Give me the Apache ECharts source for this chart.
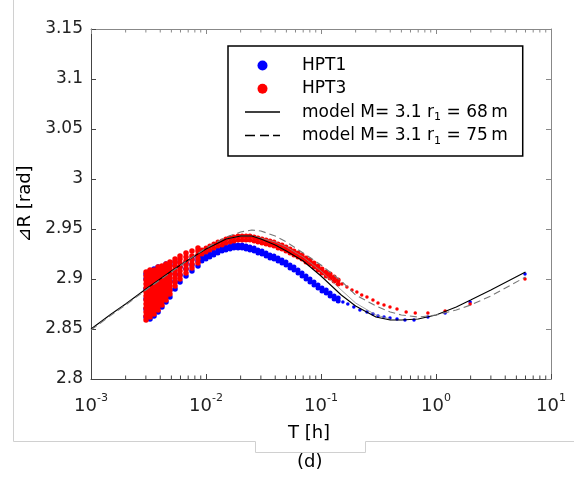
<!DOCTYPE html>
<html><head><meta charset="utf-8">
<script src="https://cdn.jsdelivr.net/npm/echarts@6/dist/echarts.min.js"></script>
<style>html,body{margin:0;padding:0;background:#fff}#c{width:574px;height:479px}</style>
</head><body><div id="c"></div>
<script>
// ---- axis ticks ----
const xMajorTicks = [0.001, 0.01, 0.1, 1, 10];
const xMinorTicks = [0.002,0.003,0.004,0.005,0.006,0.007,0.008,0.009,
  0.02,0.03,0.04,0.05,0.06,0.07,0.08,0.09,
  0.2,0.3,0.4,0.5,0.6,0.7,0.8,0.9,
  2,3,4,5,6,7,8,9];
const yMin = 2.8, yMax = 3.15, yStep = 0.05;

// ---- early-time cluster (columns of T with the values seen in each column) ----
const clusterT = [0.00301,0.00326,0.00353,0.00383,0.00414,0.00449,0.00486,0.00538,0.00594,0.0067,0.00755,0.00852];
const hpt1ClusterCols = [
  [2.862,2.870,2.880,2.890,2.900,2.905],
  [2.860,2.866,2.876,2.888,2.898,2.908],
  [2.863,2.871,2.880,2.892,2.904,2.910],
  [2.867,2.874,2.882,2.895,2.906,2.912],
  [2.872,2.879,2.886,2.900,2.912],
  [2.877,2.884,2.892,2.905,2.915],
  [2.882,2.889,2.898,2.914],
  [2.890,2.897,2.905,2.917],
  [2.897,2.904,2.912],
  [2.903,2.910,2.916],
  [2.908,2.914,2.920],
  [2.913,2.918,2.922]
];
const hpt3ClusterCols = [
  [2.859,2.863,2.867,2.871,2.875,2.879,2.883,2.887,2.891,2.895,2.899,2.903,2.907],
  [2.862,2.866,2.870,2.874,2.878,2.882,2.886,2.890,2.894,2.898,2.902,2.906,2.909],
  [2.865,2.869,2.873,2.877,2.881,2.885,2.889,2.893,2.897,2.901,2.905,2.909],
  [2.869,2.873,2.877,2.881,2.885,2.889,2.893,2.897,2.901,2.905,2.909,2.912],
  [2.874,2.878,2.882,2.886,2.890,2.894,2.898,2.902,2.906,2.910,2.913],
  [2.879,2.883,2.887,2.891,2.895,2.899,2.903,2.907,2.911,2.915],
  [2.885,2.889,2.893,2.897,2.901,2.905,2.909,2.913,2.917],
  [2.893,2.897,2.901,2.905,2.909,2.913,2.917,2.920],
  [2.900,2.904,2.908,2.912,2.916,2.920,2.923],
  [2.906,2.910,2.914,2.918,2.922,2.926],
  [2.911,2.915,2.919,2.923,2.928],
  [2.916,2.920,2.924,2.928,2.931]
];

// ---- dense band (upper / lower edge of each data band) ----
const bandT = [0.00923,0.0100,0.0108,0.0117,0.0127,0.0138,0.0149,0.0162,0.0175,0.0190,0.0206,0.0223,0.0241,0.0262,0.0283,0.0307,0.0333,0.0360,0.0390,0.0423,0.0458,0.0496,0.0538,0.0582,0.0631,0.0684,0.0741,0.0802,0.0869,0.0942,0.102,0.111,0.120,0.130,0.141];
const hpt3BandUpper = [2.929,2.931,2.933,2.935,2.937,2.938,2.940,2.941,2.942,2.943,2.943,2.943,2.943,2.942,2.941,2.940,2.939,2.938,2.937,2.935,2.934,2.932,2.930,2.928,2.926,2.924,2.921,2.919,2.916,2.913,2.910,2.907,2.905,2.902,2.899];
const hpt3BandLower = [2.925,2.927,2.929,2.931,2.933,2.934,2.936,2.937,2.938,2.939,2.939,2.939,2.939,2.938,2.937,2.936,2.935,2.934,2.933,2.931,2.930,2.928,2.926,2.924,2.922,2.920,2.917,2.915,2.912,2.909,2.906,2.903,2.901,2.898,2.895];
const hpt1BandUpper = [2.921,2.923,2.925,2.927,2.929,2.931,2.932,2.933,2.934,2.934,2.934,2.933,2.932,2.931,2.929,2.928,2.926,2.924,2.923,2.921,2.919,2.917,2.914,2.912,2.909,2.906,2.903,2.900,2.897,2.894,2.891,2.889,2.886,2.883,2.881];
const hpt1BandLower = [2.918,2.920,2.922,2.924,2.926,2.928,2.929,2.930,2.931,2.931,2.931,2.930,2.929,2.928,2.926,2.925,2.923,2.921,2.920,2.918,2.916,2.914,2.911,2.909,2.906,2.903,2.900,2.897,2.894,2.891,2.888,2.886,2.883,2.880,2.878];

// ---- late-time sparse points ----
const hpt1TailT = [0.155,0.171,0.193,0.218,0.251,0.283,0.313,0.353,0.398,0.458,0.537,0.644,0.851,1.2,1.98,5.94];
const hpt1TailV = [2.877,2.875,2.872,2.869,2.867,2.865,2.863,2.862,2.861,2.860,2.859,2.859,2.862,2.866,2.877,2.905];
const hpt3TailT = [0.152,0.168,0.186,0.205,0.226,0.251,0.283,0.313,0.353,0.398,0.458,0.55,0.66,0.85,1.2,1.98,5.94];
const hpt3TailV = [2.895,2.892,2.889,2.887,2.884,2.882,2.879,2.876,2.874,2.872,2.870,2.867,2.866,2.866,2.868,2.875,2.900];

// ---- model curves ----
const modelT = [0.001,0.0015,0.002,0.003,0.005,0.007,0.01,0.015,0.02,0.025,0.03,0.04,0.05,0.07,0.1,0.15,0.2,0.3,0.4,0.5,0.7,1,1.5,2,3,6];
const model68 = [2.850,2.865,2.875,2.890,2.908,2.919,2.930,2.940,2.943,2.943,2.940,2.934,2.928,2.918,2.903,2.884,2.873,2.862,2.859,2.859,2.860,2.864,2.872,2.879,2.889,2.907];
const model75 = [2.849,2.864,2.874,2.889,2.907,2.919,2.931,2.942,2.947,2.949,2.948,2.943,2.937,2.926,2.914,2.898,2.884,2.873,2.867,2.864,2.862,2.864,2.869,2.874,2.883,2.902];
const greyT = [0.015,0.02,0.025,0.03,0.04,0.05,0.07,0.1,0.15,0.2,0.3,0.4];
const greyV = [2.940,2.943,2.943,2.941,2.937,2.932,2.922,2.908,2.889,2.876,2.864,2.860];

const legendLabels = {
  'HPT1': 'HPT1',
  'HPT3': 'HPT3',
  'model68': 'model M= 3.1 r{sub|1} = 68\u2009m',
  'model75': 'model M= 3.1 r{sub|1} = 75\u2009m'
};

const FONT = 'DejaVu Sans';
const pair = (T, V) => T.map((t, i) => [t, V[i]]);
const cols = (T, C) => { const out = []; T.forEach((t, i) => C[i].forEach(v => out.push([t, v]))); return out; };

const BLUE = '#0000ff', RED = '#ff0000';
const dot = (name, data, color, size) => ({
  name, type: 'scatter', data, symbol: 'circle', symbolSize: size,
  itemStyle: { color, opacity: 1 }, clip: false, silent: true, animation: false
});

// legend line samples (solid and dashed strokes)
const solidIcon = 'path://M0,0H35V1.5H0Z';
const dashIcon = 'path://M0,0H10V1.5H0Z M15,0H24V1.5H15Z M28,0H35V1.5H28Z';

const chart = echarts.init(document.getElementById('c'), null, { renderer: 'canvas' });
chart.setOption({
  animation: false,
  backgroundColor: '#fff',
  textStyle: { fontFamily: FONT },
  grid: { left: 91, top: 29, width: 460, height: 350, containLabel: false },
  xAxis: [{
    type: 'log', logBase: 10, min: 0.001, max: 10, position: 'bottom',
    axisLine: { lineStyle: { color: '#444', width: 1 } },
    axisTick: { inside: true, length: 5, lineStyle: { color: '#444' } },
    splitLine: { show: false },
    axisLabel: {
      margin: 14, color: '#222', fontFamily: FONT, fontSize: 18, lineHeight: 26,
      formatter: v => '{b|10}{s|' + Math.round(Math.log10(v)) + '}',
      rich: {
        b: { fontFamily: FONT, fontSize: 18, lineHeight: 26, color: '#222' },
        s: { fontFamily: FONT, fontSize: 11, lineHeight: 10, verticalAlign: 'top', color: '#222' }
      }
    },
    name: 'T [h]', nameLocation: 'middle', nameGap: 45,
    nameTextStyle: { fontFamily: FONT, fontSize: 18, color: '#000', padding: [0, 24, 0, 0] }
  }, {
    type: 'log', logBase: 10, min: 0.001, max: 10, position: 'top',
    axisLine: { lineStyle: { color: '#888', width: 1 } },
    axisTick: { inside: true, length: 5, lineStyle: { color: '#888' } },
    axisLabel: { show: false }, splitLine: { show: false }
  }],
  yAxis: [{
    type: 'value', min: yMin, max: yMax, interval: yStep, position: 'left',
    axisLine: { show: true, lineStyle: { color: '#444', width: 1 } },
    axisTick: { show: true, inside: true, length: 5, lineStyle: { color: '#444' } },
    splitLine: { show: false },
    axisLabel: { margin: 8, color: '#222', fontFamily: FONT, fontSize: 17,
      formatter: v => String(+v.toFixed(2)) },
    name: '\u22BFR [rad]', nameLocation: 'middle', nameGap: 52,
    nameTextStyle: { fontFamily: FONT, fontSize: 18, color: '#000' }
  }, {
    type: 'value', min: yMin, max: yMax, interval: yStep, position: 'right',
    axisLine: { show: true, lineStyle: { color: '#888', width: 1 } },
    axisTick: { show: true, inside: true, length: 5, lineStyle: { color: '#888' } },
    axisLabel: { show: false }, splitLine: { show: false }
  }],
  legend: {
    orient: 'vertical', left: 228, top: 46,
    padding: [8.5, 15, 9.5, 17], itemWidth: 35, itemHeight: 10, itemGap: 1.3,
    borderColor: '#000', borderWidth: 1.5, backgroundColor: '#fff',
    selectedMode: false, symbolKeepAspect: true,
    data: [{ name: 'HPT1', icon: 'circle' }, { name: 'HPT3', icon: 'circle' },
           { name: 'model68', icon: solidIcon, itemStyle: { color: '#000' } },
           { name: 'model75', icon: dashIcon, itemStyle: { color: '#000' } }],
    formatter: n => legendLabels[n],
    textStyle: {
      fontFamily: FONT, fontSize: 17, color: '#000', lineHeight: 22, padding: [0, 0, 0, 17],
      rich: { sub: { fontFamily: FONT, fontSize: 11, lineHeight: 10, verticalAlign: 'bottom', color: '#000' } }
    }
  },
  graphic: [
    { type: 'polyline', silent: true,
      shape: { points: [[13.5, 0], [13.5, 441.5], [255.5, 441.5], [255.5, 452.5], [365.5, 452.5], [365.5, 441.5], [574, 441.5]] },
      style: { stroke: '#d0d0d0', lineWidth: 1, fill: null } },
    { type: 'text', left: 297, top: 453, silent: true,
      style: { text: '(d)', font: '18px "DejaVu Sans"', fill: '#000' } }
  ],
  series: [
    dot('HPT1', cols(clusterT, hpt1ClusterCols), BLUE, 5.5),
    dot('HPT1', pair(bandT, hpt1BandUpper), BLUE, 5),
    dot('HPT1', pair(bandT, hpt1BandLower), BLUE, 5),
    dot('HPT1', pair(hpt1TailT, hpt1TailV), BLUE, 3.5),
    dot('HPT3', cols(clusterT, hpt3ClusterCols), RED, 5.5),
    dot('HPT3', pair(bandT, hpt3BandUpper), RED, 5),
    dot('HPT3', pair(bandT, hpt3BandLower), RED, 5),
    dot('HPT3', pair(hpt3TailT, hpt3TailV), RED, 3.5),
    { name: 'grey', type: 'line', data: pair(greyT, greyV), showSymbol: false, symbol: 'none',
      lineStyle: { color: '#8a8a8a', width: 0.8 }, silent: true },
    { name: 'model68', type: 'line', data: pair(modelT, model68), showSymbol: false, symbol: 'none',
      lineStyle: { color: '#000', width: 1.1 }, itemStyle: { color: '#000' }, silent: true },
    { name: 'model75', type: 'line', data: pair(modelT, model75), showSymbol: false, symbol: 'none',
      lineStyle: { color: '#777', width: 1.1, type: [7, 4] }, itemStyle: { color: '#000' }, silent: true },
    // minor ticks on the log axis (bottom and top)
    { type: 'scatter', data: xMinorTicks.map(v => [v, yMin]), symbol: 'rect', symbolSize: [1, 3.5],
      symbolOffset: [0, -1.75], itemStyle: { color: '#444', opacity: 1 }, clip: false, silent: true, z: 5 },
    { type: 'scatter', data: xMinorTicks.map(v => [v, yMax]), symbol: 'rect', symbolSize: [1, 3.5],
      symbolOffset: [0, 1.75], itemStyle: { color: '#888', opacity: 1 }, clip: false, silent: true, z: 5 }
  ]
});
</script>
</body></html>
